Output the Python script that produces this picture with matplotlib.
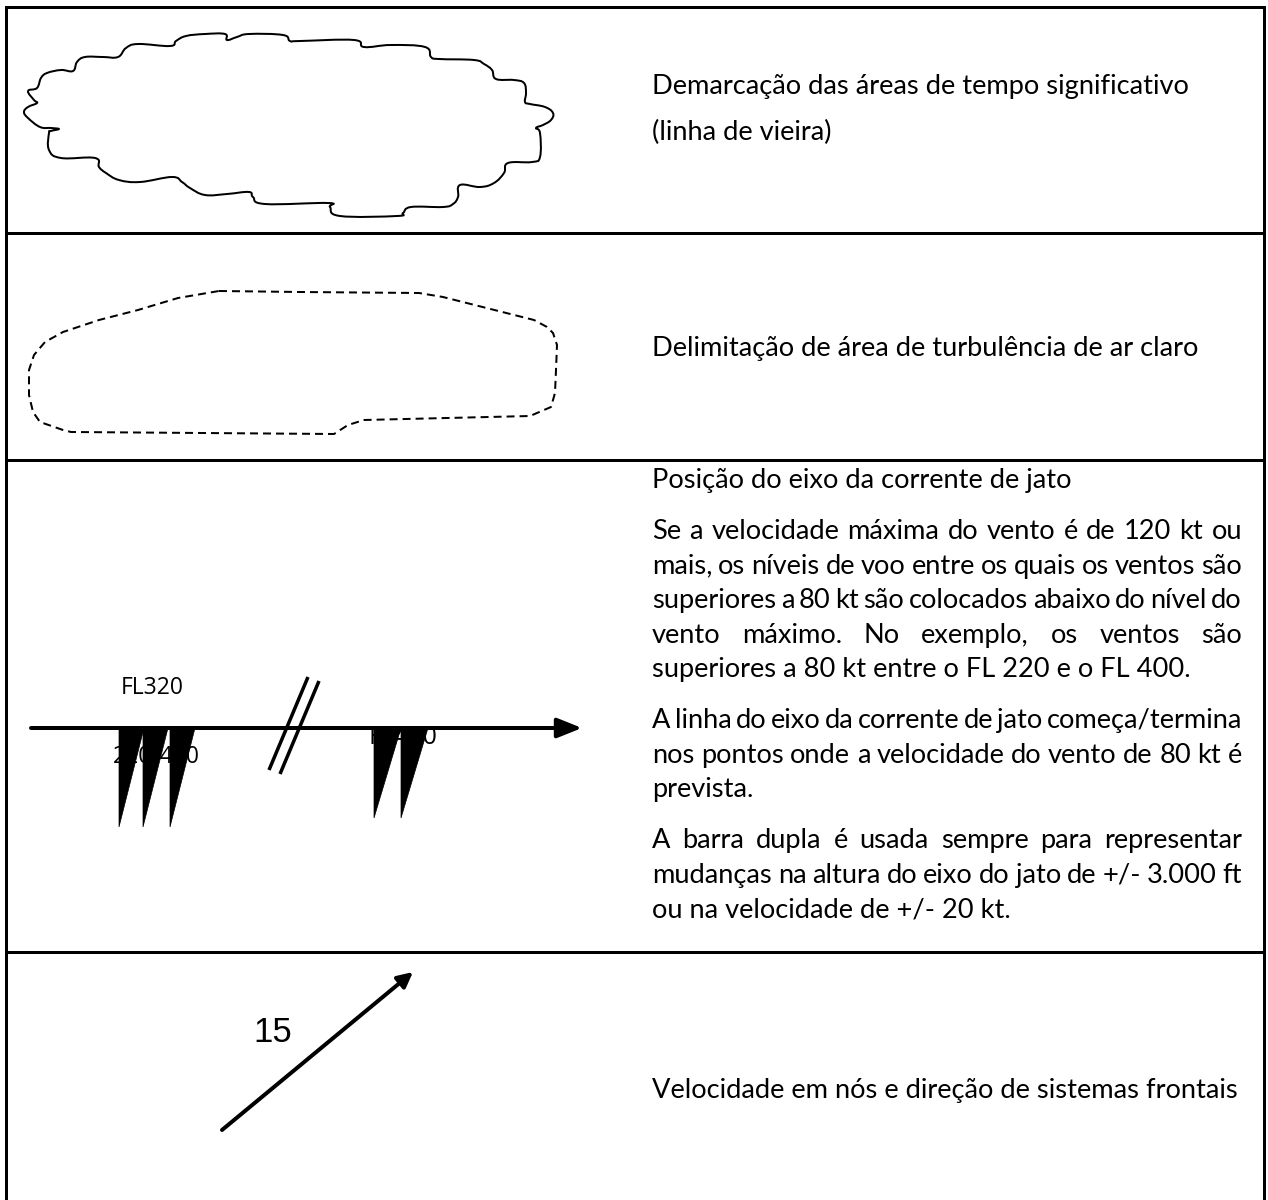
import matplotlib
matplotlib.use("Agg")
import matplotlib.pyplot as plt
from matplotlib.patches import Polygon, PathPatch
from matplotlib.path import Path

# ---------------- data ----------------
FIG_W, FIG_H = 1268, 1200

frame_x = [6, 1264]
frame_top = 7
row_lines = [233, 460, 952]

text_x0, text_x1 = 652, 1242

row1_lines = ["Demarcação das áreas de tempo significativo", "(linha de vieira)"]
row1_y = [86, 132]
row2_lines = ["Delimitação de área de turbulência de ar claro"]
row2_y = [348]
row3_paragraphs = [
    ["Posição do eixo da corrente de jato"],
    ["Se a velocidade máxima do vento é de 120 kt ou",
     "mais, os níveis de voo entre os quais os ventos são",
     "superiores a 80 kt são colocados abaixo do nível do",
     "vento máximo. No exemplo, os ventos são",
     "superiores a 80 kt entre o FL 220 e o FL 400."],
    ["A linha do eixo da corrente de jato começa/termina",
     "nos pontos onde a velocidade do vento de 80 kt é",
     "prevista."],
    ["A barra dupla é usada sempre para representar",
     "mudanças na altura do eixo do jato de +/- 3.000 ft",
     "ou na velocidade de +/- 20 kt."],
]
row3_y0 = 480
row3_line_step = 34.5
row3_para_step = 51
row4_lines = ["Velocidade em nós e direção de sistemas frontais"]
row4_y = [1090]

# scalloped cloud outline (significant weather)
cloud_x = [28, 37, 41, 47, 61, 73, 77, 85, 103, 118, 126, 138, 170, 176, 186, 205,
           225, 227, 237, 249, 283, 290, 300, 354, 364, 391, 425, 431, 439, 474, 484,
           492, 496, 514, 524, 526, 525, 530, 545, 553, 551, 543, 536, 540, 540, 532,
           508, 504, 494, 480, 460, 458, 453, 443, 411, 403, 397, 340, 330, 328, 265,
           253, 249, 227, 205, 190, 182, 172, 140, 119, 106, 99, 95, 61, 49, 49, 51,
           59, 51, 40, 28, 24, 28, 37, 34]
cloud_y = [91, 88, 78, 73, 70, 71, 62, 57, 57, 57, 48, 44, 46, 41, 36, 34,
           34, 40, 37, 34, 35, 41, 41, 40, 47, 45, 47, 57, 59, 60, 64,
           70, 79, 80, 83, 93, 102, 104, 107, 113, 120, 125, 128, 133, 157, 162,
           163, 173, 183, 187, 185, 197, 204, 207, 207, 213, 216, 216, 207, 203, 204,
           197, 192, 194, 195, 188, 182, 177, 182, 180, 173, 167, 158, 158, 150, 133, 131,
           129, 128, 127, 118, 112, 107, 103, 100]

# clear-air turbulence area (dashed)
cat_x = [219, 300, 419, 443, 534, 547, 553, 557, 556, 555, 551, 530, 364, 348, 334, 71,
         63, 40, 33, 29, 29, 34, 45, 63, 99, 138, 178]
cat_y = [291, 292, 293, 297, 320, 327, 333, 345, 370, 393, 407, 416, 420, 425, 434, 432,
         430, 422, 412, 395, 370, 355, 342, 332, 320, 310, 298]

# jet stream axis
jet_y = 728
jet_x = [31, 582]
barb_left_x = [119, 143, 170]
barb_left_w = 25
barb_left_bottom = 827
barb_right_x = [374, 401]
barb_right_w = 27
barb_right_bottom = 818
double_bar_1 = ([269, 308], [770, 677])
double_bar_2 = ([280, 319], [774, 681])
jet_labels = ["FL320", "220/400", "FL400"]
jet_label_xy = [(152, 688), (156, 757), (403, 737)]
jet_label_size = [16.5, 16.5, 18]

# front movement arrow
front_tail = (222, 1130)
front_tip = (413, 972)
front_speed = "15"
front_label_xy = (273, 1033)

# ---------------- drawing ----------------
BODY_FONT = ["Lato", "DejaVu Sans"]
LABEL_FONT = ["Open Sans", "DejaVu Sans"]
PX = 0.72  # points per pixel at dpi 100

fig = plt.figure(figsize=(FIG_W / 100, FIG_H / 100), dpi=100)
ax = fig.add_axes([0, 0, 1, 1])
ax.set_xlim(0, FIG_W)
ax.set_ylim(FIG_H, 0)
ax.axis("off")

# frame
lw_frame = 3 * PX
ax.plot([frame_x[0], frame_x[1]], [frame_top, frame_top], color="black", lw=lw_frame, solid_capstyle="projecting")
for x in frame_x:
    ax.plot([x, x], [frame_top, FIG_H + 5], color="black", lw=lw_frame, solid_capstyle="projecting")
for y in row_lines:
    ax.plot([frame_x[0], frame_x[1]], [y, y], color="black", lw=lw_frame)

fig.canvas.draw()
renderer = fig.canvas.get_renderer()


def width_of(s, fs, family):
    t = ax.text(0, 0, s, fontsize=fs, family=family)
    w = t.get_window_extent(renderer).width
    t.remove()
    return w


# fit body font size so the row-4 line spans the text column
ref_w = width_of(row4_lines[0], 10, BODY_FONT)
body_fs = 10 * (text_x1 - 2 - text_x0) / ref_w
base_off = body_fs / PX * 0.30  # baseline offset from visual line centre


def put_line(s, y, justify=False):
    yb = y + base_off
    if not justify:
        ax.text(text_x0, yb, s, fontsize=body_fs, family=BODY_FONT, ha="left", va="baseline")
        return
    words = s.split(" ")
    ws = [width_of(w, body_fs, BODY_FONT) for w in words]
    gap = (text_x1 - text_x0 - sum(ws)) / (len(words) - 1)
    x = text_x0
    for w, wd in zip(words, ws):
        ax.text(x, yb, w, fontsize=body_fs, family=BODY_FONT, ha="left", va="baseline")
        x += wd + gap


for s, y in zip(row1_lines, row1_y):
    put_line(s, y)
for s, y in zip(row2_lines, row2_y):
    put_line(s, y)
y = row3_y0
for pi, para in enumerate(row3_paragraphs):
    if pi > 0:
        y += row3_para_step
    for li, s in enumerate(para):
        if li > 0:
            y += row3_line_step
        put_line(s, y, justify=(li < len(para) - 1))
for s, y in zip(row4_lines, row4_y):
    put_line(s, y)


def smooth_closed_path(xs, ys, tension=0.5):
    """Closed Catmull-Rom curve through the given outline vertices, as Bezier segments."""
    pts = list(zip(xs, ys))
    n = len(pts)
    verts = [pts[0]]
    codes = [Path.MOVETO]
    k = tension / 3.0
    for i in range(n):
        p0 = pts[(i - 1) % n]
        p1 = pts[i]
        p2 = pts[(i + 1) % n]
        p3 = pts[(i + 2) % n]
        c1 = (p1[0] + (p2[0] - p0[0]) * k, p1[1] + (p2[1] - p0[1]) * k)
        c2 = (p2[0] - (p3[0] - p1[0]) * k, p2[1] - (p3[1] - p1[1]) * k)
        verts += [c1, c2, p2]
        codes += [Path.CURVE4] * 3
    return Path(verts, codes)


# cloud (smooth scalloped line)
ax.add_patch(PathPatch(smooth_closed_path(cloud_x, cloud_y, 0.6), fill=False,
                       edgecolor="black", lw=2 * PX, joinstyle="round"))
# dashed CAT area
lw_cat = 2 * PX
ax.add_patch(Polygon(list(zip(cat_x, cat_y)), closed=True, fill=False,
                     edgecolor="black", lw=lw_cat, joinstyle="round",
                     linestyle=(0, (8 * PX / lw_cat, 5 * PX / lw_cat))))

# jet stream labels (beneath the barbs)
for lab, (lx, ly), fs in zip(jet_labels, jet_label_xy, jet_label_size):
    ax.text(lx, ly, lab, fontsize=fs, family=LABEL_FONT, ha="center", va="center", zorder=2)

# jet axis arrow
ax.annotate("", xy=(jet_x[1], jet_y), xytext=(jet_x[0], jet_y),
            arrowprops=dict(arrowstyle="-|>,head_length=1.5,head_width=0.6",
                            lw=4 * PX, color="black", shrinkA=0, shrinkB=0), zorder=3)
# wind barbs (pennants)
for bx in barb_left_x:
    ax.add_patch(Polygon([(bx, jet_y), (bx + barb_left_w, jet_y), (bx, barb_left_bottom)],
                         closed=True, facecolor="black", edgecolor="black", lw=0.5, zorder=4))
for bx in barb_right_x:
    ax.add_patch(Polygon([(bx, jet_y), (bx + barb_right_w, jet_y), (bx, barb_right_bottom)],
                         closed=True, facecolor="black", edgecolor="black", lw=0.5, zorder=4))
# double bar
for xs, ys in (double_bar_1, double_bar_2):
    ax.plot(xs, ys, color="black", lw=3.5 * PX, solid_capstyle="butt", zorder=4)

# front arrow
ax.annotate("", xy=front_tip, xytext=front_tail,
            arrowprops=dict(arrowstyle="-|>,head_length=0.9,head_width=0.45",
                            lw=4 * PX, color="black", shrinkA=0, shrinkB=0))
ax.text(front_label_xy[0], front_label_xy[1], front_speed, fontsize=25,
        family=["Liberation Sans", "DejaVu Sans"], ha="center", va="center")

fig.savefig("out.png", dpi=100, facecolor="white")
